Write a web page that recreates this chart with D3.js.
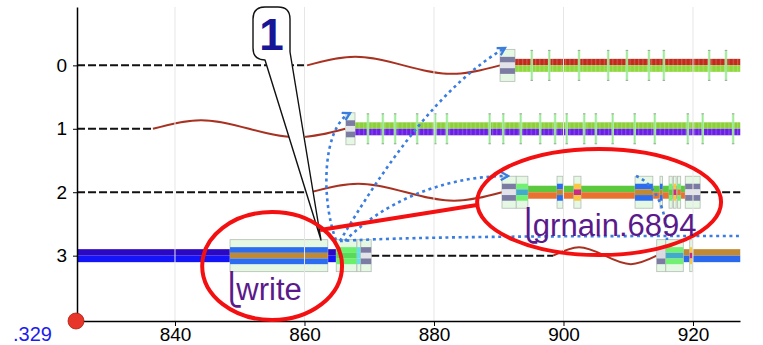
<!DOCTYPE html>
<html><head><meta charset="utf-8">
<script src="https://cdn.jsdelivr.net/npm/d3@7"></script>
<style>
html,body{margin:0;padding:0;background:#fff;}
svg{display:block;font-family:"Liberation Sans",Arial,Helvetica,sans-serif;}
</style></head><body>
<svg id="chart" width="763" height="345"></svg>
<script>
// ---------- data ----------
const rows = [0, 1, 2, 3];
const xTicks = [840, 860, 880, 900, 920];
const viewStart = 824.865, viewEnd = 927.26;
const viewStartLabel = ".329";

// idle stretches per row: [row, t0, t1]
const idleSpans = [[0, 824.87, 860.4], [1, 824.87, 836.6], [2, 824.87, 860.9], [2, 921.1, 927.3], [3, 870.3, 898.4]];
// sleeping stretches per row: [row, t0, t1]
const sleepSpans = [[0, 860.4, 890.2], [1, 836.6, 866.3], [2, 860.9, 890.5], [3, 898.4, 914.4]];
// running bands: [row, t0, t1, upper colour, lower colour]
const runBands = [
  [0, 892.5, 927.3, "#c22a1c", "#8fd83e"],
  [1, 867.8, 927.3, "#8ccf3a", "#6a1ee6"],
  [2, 894.5, 918.8, "#5cc83e", "#ea7230"],
  [3, 824.87, 848.5, "#2a08c4", "#1414f8"],
  [3, 863.6, 864.9, "#2a08c4", "#1414f8"],
  [3, 918.5, 927.3, "#c08a34", "#2a68ee"]
];
const texturedRows = [0, 1];

// framed event blocks: [row, t0, t1, [top, middle, bottom]]
const blocks = [
  [0, 890.2, 892.5, ["#7b7ba3", "#e3e3ea", "#7b7ba3"]],
  [1, 866.4, 867.8, ["#7b7ba3", "#e3e3ea", "#7b7ba3"]],
  [2, 890.5, 892.7, ["#7b7ba3", "#e3e3ea", "#7b7ba3"]],
  [2, 892.7, 894.5, ["#72f072", "#44aacc", "#72f072"]],
  [2, 899.0, 899.9, ["#2c6cf0", "#c08a34", "#2c6cf0"]],
  [2, 901.6, 902.7, ["#f8c844", "#c82c84", "#f8c844"]],
  [2, 911.05, 913.8, ["#2c6cf0", "#c08a34", "#2c6cf0"]],
  [2, 914.9, 915.3, ["#2c6cf0", "#c08a34", "#2c6cf0"]],
  [2, 916.3, 916.8, ["#72f072", "#5cc83e", "#72f072"]],
  [2, 917.0, 917.4, ["#f8c844", "#c82c84", "#f8c844"]],
  [2, 917.6, 918.1, ["#72f072", "#ea7230", "#72f072"]],
  [2, 918.8, 921.1, ["#7b7ba3", "#e3e3ea", "#7b7ba3"]],
  [3, 848.5, 863.6, ["#2c6cf0", "#c08a34", "#2c6cf0"]],
  [3, 864.9, 868.1, ["#6af06a", "#5ad85a", "#6af06a"]],
  [3, 868.1, 868.7, ["#60e0e8", "#60e0e8", "#60e0e8"]],
  [3, 868.7, 870.3, ["#7b7ba3", "#e3e3ea", "#7b7ba3"]],
  [3, 914.4, 915.8, ["#dadae2", "#dadae2", "#7b7ba3"]],
  [3, 915.8, 918.5, ["#72f072", "#44aacc", "#72f072"]],
  [3, 919.5, 919.9, ["#f8c844", "#c82c84", "#f8c844"]]
];

// thin event ticks on the running rows
const row0Events = [895.1, 897.8, 902.4, 906.9, 909.8, 913.2, 915.5, 922.5, 925.1];
const row1Events = [869.8, 872.1, 874.0, 877.4, 880.2, 882.0, 888.6, 890.7, 893.4, 896.4, 898.7,
                    900.5, 903.2, 905.0, 907.6, 911.0, 914.1, 919.2, 921.5, 926.2];

// wake-up links: start, two control points, end as [time, row]
const links = [
  {pts: [[864.86, 2.753], [862.55, 2.123], [862.70, 0.988], [867.03, 0.751]], arrow: true},
  {pts: [[865.48, 2.769], [872.43, 1.571], [881.10, 0.309], [890.97, -0.274]], arrow: true},
  {pts: [[866.25, 2.769], [871.66, 2.202], [880.93, 1.744], [891.43, 1.744]], arrow: true},
  {pts: [[865.48, 2.769], [877.84, 2.690], [905.64, 2.690], [927.26, 2.690]], arrow: false},
  {pts: [[911.2, 1.744], [914.29, 1.870], [915.98, 2.312], [915.98, 2.753]], arrow: false}
];

// labels under blocks
const labels = [
  {text: "⎩write", t: 848.5, row: 3.70},
  {text: "⎩grnain.6894", t: 894.3, row: 2.69}
];

// highlight ellipses: centre [time, row], radii [time, row]
const rings = [
  {c: [855.0, 3.163], r: [10.8, 0.851]},
  {c: [905.5, 2.154], r: [18.84, 0.836]}
];
const ringLink = [[862.4, 2.596], [886.64, 2.202]];
const callout = {text: "1", t: 862.55, row: 2.753};

// ---------- drawing ----------
const svg = d3.select("#chart");
const x = d3.scaleLinear().domain([viewStart, viewEnd]).range([77, 740]);
const y = d3.scaleLinear().domain([-0.92, 4.03]).range([7, 321]);

const defs = svg.append("defs");
const tex = defs.append("pattern").attr("id", "tex").attr("patternUnits", "userSpaceOnUse")
  .attr("width", 4.3).attr("height", 20);
tex.append("rect").attr("x", 2).attr("width", 0.8).attr("height", 20).attr("fill", "#fff").attr("opacity", 0.3);
defs.append("marker").attr("id", "arr").attr("viewBox", "0 0 10 10").attr("refX", 8).attr("refY", 5)
  .attr("markerWidth", 4).attr("markerHeight", 4).attr("orient", "auto")
  .append("path").attr("d", "M1,1 L8,5 L1,9").attr("fill", "none").attr("stroke", "#3a7de0").attr("stroke-width", 2.2);

// idle lines
svg.append("g").selectAll("line").data(idleSpans).join("line")
  .attr("x1", d => x(d[1])).attr("x2", d => x(d[2]))
  .attr("y1", d => y(d[0])).attr("y2", d => y(d[0]))
  .attr("stroke", "#111").attr("stroke-width", 2).attr("stroke-dasharray", "8,3");

// sleep waves
const wave = d3.line().curve(d3.curveNatural);
svg.append("g").selectAll("path").data(sleepSpans).join("path")
  .attr("d", d => {
    const x0 = x(d[1]), x1 = x(d[2]), yc = y(d[0]), a = 8.5, w = x1 - x0;
    return wave([[x0, yc], [x0 + w * 0.25, yc - a], [x0 + w * 0.5, yc], [x0 + w * 0.75, yc + a], [x1, yc]]);
  })
  .attr("fill", "none").attr("stroke", "#a83222").attr("stroke-width", 2);

// running bands
const gb = svg.append("g");
runBands.forEach(d => {
  const yc = y(d[0]), x0 = x(d[1]), w = x(d[2]) - x(d[1]);
  gb.append("rect").attr("x", x0).attr("y", yc - 6.5).attr("width", w).attr("height", 6.5).attr("fill", d[3]);
  gb.append("rect").attr("x", x0).attr("y", yc).attr("width", w).attr("height", 6.5).attr("fill", d[4]);
  if (texturedRows.includes(d[0]))
    gb.append("rect").attr("x", x0).attr("y", yc - 6.5).attr("width", w).attr("height", 13).attr("fill", "url(#tex)");
});

// thin event ticks
const ticksG = svg.append("g");
[[0, row0Events], [1, row1Events]].forEach(([r, evs]) => {
  evs.forEach(t => {
    const cx = x(t), yc = y(r);
    ticksG.append("rect").attr("x", cx - 1.3).attr("y", yc - 15).attr("width", 2.6).attr("height", 30)
      .attr("fill", "#b8f2b2").attr("opacity", 0.85);
    ticksG.append("rect").attr("x", cx - 0.4).attr("y", yc - 15).attr("width", 0.8).attr("height", 30)
      .attr("fill", "#78e078").attr("opacity", 0.8);
    [yc - 15, yc + 15].forEach(yy => ticksG.append("line").attr("x1", cx - 1.2).attr("x2", cx + 1.2)
      .attr("y1", yy).attr("y2", yy).attr("stroke", "#a0a0a0").attr("stroke-width", 1));
  });
});

// framed blocks
const gk = svg.append("g");
blocks.forEach(d => {
  const yc = y(d[0]), x0 = x(d[1]), w = x(d[2]) - x(d[1]);
  gk.append("rect").attr("x", x0).attr("y", yc - 16).attr("width", w).attr("height", 32)
    .attr("fill", "#e4f8e4").attr("stroke", "#b4bcb4").attr("stroke-width", 0.8);
  const sh = 17 / 3;
  d[3].forEach((c, i) => gk.append("rect").attr("x", x0).attr("y", yc - 8.5 + i * sh)
    .attr("width", w).attr("height", sh).attr("fill", c));
});

// grid
svg.append("g").selectAll("line").data(xTicks).join("line")
  .attr("x1", d => x(d)).attr("x2", d => x(d)).attr("y1", 7).attr("y2", 321)
  .attr("stroke", "#e6e6e6").attr("stroke-width", 1);

// links
svg.append("g").selectAll("path").data(links).join("path")
  .attr("d", d => {
    const p = d.pts.map(q => [x(q[0]), y(q[1])]);
    return `M${p[0]}C${p[1]} ${p[2]} ${p[3]}`;
  })
  .attr("fill", "none").attr("stroke", "#3a7de0").attr("stroke-width", 2.6)
  .attr("stroke-dasharray", "3,3.6")
  .attr("marker-end", d => d.arrow ? "url(#arr)" : null);

// axes
const xAxis = svg.append("g").attr("transform", "translate(0,321)")
  .call(d3.axisBottom(x).tickValues(xTicks).tickSize(5).tickSizeOuter(0).tickPadding(2).tickFormat(d3.format("d")));
const yAxis = svg.append("g").attr("transform", "translate(77,0)")
  .call(d3.axisLeft(y).tickValues(rows).tickSize(4).tickSizeOuter(0).tickPadding(6).tickFormat(d3.format("d")));
[xAxis, yAxis].forEach(g => {
  g.select(".domain").attr("stroke", "#000").attr("stroke-width", 1.5);
  g.selectAll(".tick line").attr("stroke", "#000");
  g.selectAll("text").attr("font-size", 19).attr("fill", "#000")
    .attr("font-family", "'Liberation Sans', Arial, sans-serif");
});

// view start marker
svg.append("text")
  .attr("x", 52).attr("y", 341).attr("text-anchor", "end")
  .attr("font-size", 20).attr("fill", "#1c1cee").text(viewStartLabel);
svg.append("circle").attr("cx", x(viewStart) - 1).attr("cy", 321).attr("r", 8)
  .attr("fill", "#e8352a").attr("stroke", "#b02010").attr("stroke-width", 0.8);

// callout balloon
const tip = [x(callout.t), y(callout.row)];
{
  const L = tip[0] - 68, R = tip[0] - 31, T = 7, B = 60, r = 12;
  svg.append("path")
    .attr("d", `M${L + r},${T} H${R - r} Q${R},${T} ${R},${T + r} V${B - 8} L${tip[0]},${tip[1]} L${L + r},${B} Q${L},${B} ${L},${B - r} V${T + r} Q${L},${T} ${L + r},${T} Z`)
    .attr("fill", "#fff").attr("stroke", "#111").attr("stroke-width", 1.4).attr("stroke-linejoin", "round");
  svg.append("text").attr("x", (L + R) / 2).attr("y", 50).attr("text-anchor", "middle")
    .attr("font-size", 44).attr("font-weight", "bold").attr("fill", "#161696").text(callout.text);
}

// highlight rings
svg.append("g").selectAll("ellipse").data(rings).join("ellipse")
  .attr("cx", d => x(d.c[0])).attr("cy", d => y(d.c[1]))
  .attr("rx", d => x(d.c[0] + d.r[0]) - x(d.c[0])).attr("ry", d => y(d.c[1] + d.r[1]) - y(d.c[1]))
  .attr("fill", "none").attr("stroke", "#f41010").attr("stroke-width", 4);
svg.append("line")
  .attr("x1", x(ringLink[0][0])).attr("y1", y(ringLink[0][1]))
  .attr("x2", x(ringLink[1][0])).attr("y2", y(ringLink[1][1]))
  .attr("stroke", "#f41010").attr("stroke-width", 4);

// block labels (the opening hook sits tight against the name)
svg.append("g").selectAll("text").data(labels).join("text")
  .attr("x", d => x(d.t) - 10).attr("y", d => y(d.row))
  .attr("dx", "0 -7")
  .attr("font-size", 31).attr("fill", "#5a1a8c")
  .attr("font-family", "'Liberation Sans', 'DejaVu Sans', sans-serif")
  .text(d => d.text);
</script>
</body></html>
